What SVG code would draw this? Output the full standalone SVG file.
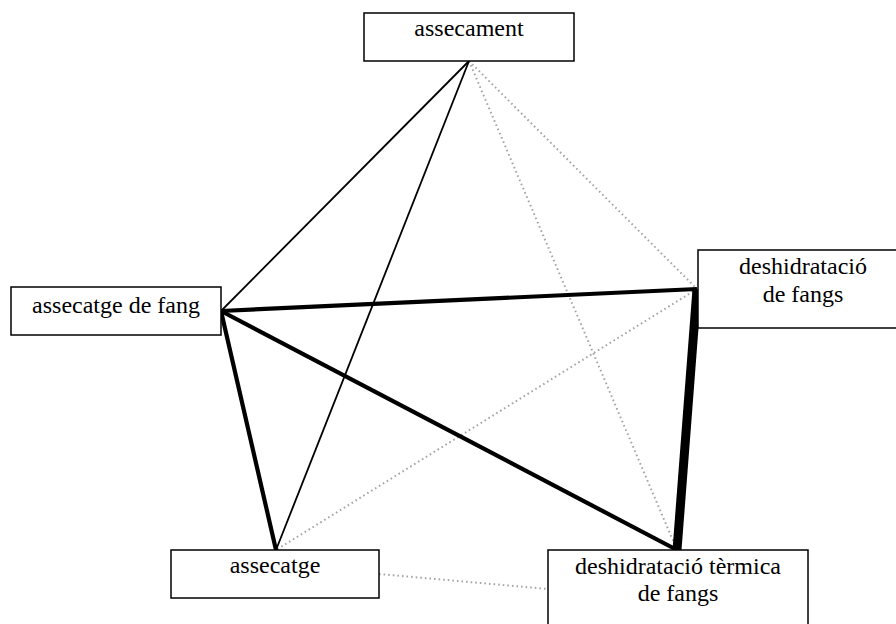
<svg xmlns="http://www.w3.org/2000/svg" width="896" height="624" viewBox="0 0 896 624">
  <style>
    .box { fill: #ffffff; stroke: #000000; stroke-width: 1.5; }
    .lbl { font-family: "Liberation Serif", "Times New Roman", serif; font-size: 24px; fill: #000000; text-anchor: middle; }
    .thin { stroke: #000000; stroke-width: 1.8; fill: none; }
    .thick { stroke: #000000; stroke-width: 4.2; fill: none; }
    .heavy { stroke: #000000; stroke-width: 9; fill: none; }
    .dot { stroke: #a6a6a6; stroke-width: 2; stroke-dasharray: 1.6 3; fill: none; }
  </style>
  <rect width="896" height="624" fill="#ffffff"/>

  <g id="connectors">
    <line class="dot" x1="469" y1="61" x2="697" y2="289"/>
    <line class="dot" x1="469" y1="61" x2="677" y2="550"/>
    <line class="dot" x1="697" y1="289" x2="276" y2="550"/>
    <line class="dot" x1="379" y1="574" x2="548" y2="589"/>
    <line class="thin" x1="469" y1="61" x2="221" y2="311"/>
    <line class="thin" x1="469" y1="61" x2="276" y2="550"/>
    <line class="thick" x1="221" y1="311" x2="697" y2="289"/>
    <line class="thick" x1="221" y1="311" x2="677" y2="550"/>
    <line class="thick" x1="221" y1="311" x2="276" y2="550"/>
    <line class="heavy" x1="697" y1="289" x2="677" y2="550"/>
  </g>

  <g id="assecament">
    <rect class="box" x="364" y="13" width="210" height="48"/>
    <text class="lbl" x="469" y="36">assecament</text>
  </g>

  <g id="assecatge-de-fang">
    <rect class="box" x="11" y="287" width="210" height="48"/>
    <text class="lbl" x="116" y="313">assecatge de fang</text>
  </g>

  <g id="deshidratacio-de-fangs">
    <rect class="box" x="698" y="250" width="210" height="78"/>
    <text class="lbl" x="803" y="274">deshidratació</text>
    <text class="lbl" x="803" y="302">de fangs</text>
  </g>

  <g id="assecatge">
    <rect class="box" x="171" y="550" width="208" height="48"/>
    <text class="lbl" x="275" y="573">assecatge</text>
  </g>

  <g id="deshidratacio-termica-de-fangs">
    <rect class="box" x="548" y="550" width="260" height="78"/>
    <text class="lbl" x="678" y="574">deshidratació tèrmica</text>
    <text class="lbl" x="678" y="601">de fangs</text>
  </g>
</svg>
